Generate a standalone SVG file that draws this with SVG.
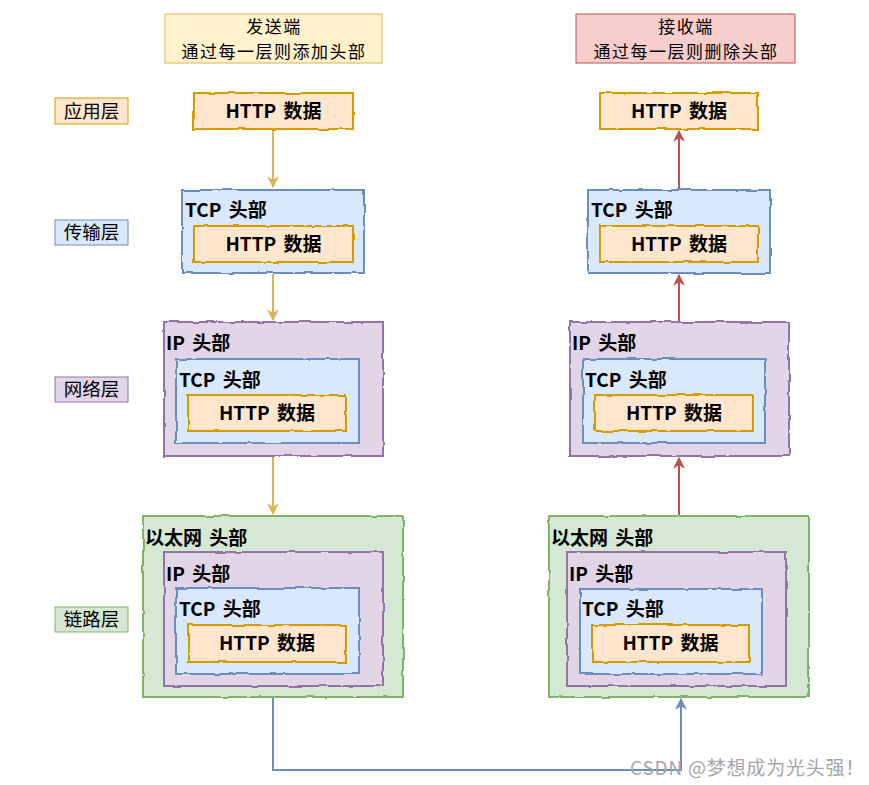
<svg xmlns="http://www.w3.org/2000/svg" width="869" height="785" viewBox="0 0 869 785">
<style>
.t{font-family:"Noto Sans CJK SC","Liberation Sans",sans-serif;fill:#000}
.lbl{font-size:18.5px}
.ttl{font-size:17px;letter-spacing:1.5px}
.hd{font-size:19px;font-weight:bold;word-spacing:3px}
.http{fill:#ffe6cc;stroke:#d79b00;stroke-width:2}
.tcp{fill:#dae8fc;stroke:#6c8ebf;stroke-width:2}
.ip{fill:#e1d5e7;stroke:#9673a6;stroke-width:2}
.eth{fill:#d5e8d4;stroke:#82b366;stroke-width:2}
.r{filter:url(#rough)}
</style>
<defs>
<filter id="rough" x="-5%" y="-5%" width="110%" height="110%">
<feTurbulence type="fractalNoise" baseFrequency="0.06" numOctaves="2" seed="4"/>
<feDisplacementMap in="SourceGraphic" scale="3" xChannelSelector="R" yChannelSelector="G"/>
</filter>
<marker id="ay" viewBox="0 0 10 10" refX="9" refY="5" markerWidth="6" markerHeight="6" orient="auto"><path d="M0,0 L10,5 L0,10 L3,5 z" fill="#d6b656"/></marker>
<marker id="ar" viewBox="0 0 10 10" refX="9" refY="5" markerWidth="6" markerHeight="6" orient="auto"><path d="M0,0 L10,5 L0,10 L3,5 z" fill="#b85450"/></marker>
<marker id="ab" viewBox="0 0 10 10" refX="9" refY="5" markerWidth="6" markerHeight="6" orient="auto"><path d="M0,0 L10,5 L0,10 L3,5 z" fill="#6c8ebf"/></marker>
</defs>
<rect width="869" height="785" fill="#ffffff"/>

<g id="title-send">
<rect x="165" y="14" width="217" height="49" fill="#fff2cc" stroke="#d6b656" stroke-width="1"/>
<text class="t ttl" x="274" y="33" text-anchor="middle">发送端</text>
<text class="t ttl" x="274" y="58" text-anchor="middle">通过每一层则添加头部</text>
</g>
<g id="title-recv">
<rect x="576" y="14" width="219" height="49" fill="#f8cecc" stroke="#b85450" stroke-width="1"/>
<text class="t ttl" x="686" y="33" text-anchor="middle">接收端</text>
<text class="t ttl" x="686" y="58" text-anchor="middle">通过每一层则删除头部</text>
</g>

<g id="layer-app">
<rect x="55" y="98" width="73" height="26" fill="#ffe6cc" stroke="#d79b00" stroke-width="1"/>
<text class="t lbl" x="91.5" y="117.5" text-anchor="middle">应用层</text>
</g>
<g id="layer-transport">
<rect x="55" y="220" width="73" height="25" fill="#dae8fc" stroke="#6c8ebf" stroke-width="1"/>
<text class="t lbl" x="91.5" y="239" text-anchor="middle">传输层</text>
</g>
<g id="layer-network">
<rect x="55" y="377" width="73" height="25" fill="#e1d5e7" stroke="#9673a6" stroke-width="1"/>
<text class="t lbl" x="91.5" y="396" text-anchor="middle">网络层</text>
</g>
<g id="layer-link">
<rect x="55" y="607" width="73" height="25" fill="#d5e8d4" stroke="#82b366" stroke-width="1"/>
<text class="t lbl" x="91.5" y="626" text-anchor="middle">链路层</text>
</g>

<g id="connectors" fill="none" stroke-width="2">
<path d="M273,129 V187" stroke="#d6b656" marker-end="url(#ay)"/>
<path d="M273,274 V320" stroke="#d6b656" marker-end="url(#ay)"/>
<path d="M273,457 V514" stroke="#d6b656" marker-end="url(#ay)"/>
<path d="M679,189 V131" stroke="#b85450" marker-end="url(#ar)"/>
<path d="M679,321 V275" stroke="#b85450" marker-end="url(#ar)"/>
<path d="M679,515 V458" stroke="#b85450" marker-end="url(#ar)"/>
<path d="M273,698 V770 H681 V699" stroke="#6c8ebf" marker-end="url(#ab)"/>
</g>

<!-- Left column -->
<g id="L-app">
<rect class="http r" x="194" y="93" width="159" height="36"/>
<text class="t hd" x="273.5" y="118" text-anchor="middle">HTTP 数据</text>
</g>
<g id="L-transport">
<rect class="tcp r" x="182" y="190" width="182" height="83"/>
<text class="t hd" x="185" y="217">TCP 头部</text>
<rect class="http r" x="194" y="226" width="159" height="36"/>
<text class="t hd" x="273.5" y="251" text-anchor="middle">HTTP 数据</text>
</g>
<g id="L-network">
<rect class="ip r" x="164" y="322" width="219" height="134"/>
<text class="t hd" x="166" y="350">IP 头部</text>
<rect class="tcp r" x="176" y="359" width="183" height="84"/>
<text class="t hd" x="179" y="387">TCP 头部</text>
<rect class="http r" x="188" y="395" width="158" height="36"/>
<text class="t hd" x="267" y="420" text-anchor="middle">HTTP 数据</text>
</g>
<g id="L-link">
<rect class="eth r" x="143" y="516" width="260" height="181"/>
<text class="t hd" x="145" y="545">以太网 头部</text>
<rect class="ip r" x="164" y="552" width="219" height="134"/>
<text class="t hd" x="166" y="581">IP 头部</text>
<rect class="tcp r" x="176" y="588" width="183" height="86"/>
<text class="t hd" x="179" y="616">TCP 头部</text>
<rect class="http r" x="188" y="625" width="158" height="37"/>
<text class="t hd" x="267" y="650" text-anchor="middle">HTTP 数据</text>
</g>

<!-- Right column -->
<g id="R-app">
<rect class="http r" x="600" y="93" width="158" height="36"/>
<text class="t hd" x="679" y="118" text-anchor="middle">HTTP 数据</text>
</g>
<g id="R-transport">
<rect class="tcp r" x="588" y="190" width="182" height="83"/>
<text class="t hd" x="591" y="217">TCP 头部</text>
<rect class="http r" x="600" y="226" width="158" height="36"/>
<text class="t hd" x="679" y="251" text-anchor="middle">HTTP 数据</text>
</g>
<g id="R-network">
<rect class="ip r" x="570" y="322" width="219" height="134"/>
<text class="t hd" x="572" y="350">IP 头部</text>
<rect class="tcp r" x="583" y="359" width="182" height="84"/>
<text class="t hd" x="585" y="387">TCP 头部</text>
<rect class="http r" x="595" y="395" width="158" height="36"/>
<text class="t hd" x="674" y="420" text-anchor="middle">HTTP 数据</text>
</g>
<g id="R-link">
<rect class="eth r" x="549" y="516" width="260" height="181"/>
<text class="t hd" x="551" y="545">以太网 头部</text>
<rect class="ip r" x="567" y="552" width="219" height="134"/>
<text class="t hd" x="569" y="581">IP 头部</text>
<rect class="tcp r" x="580" y="589" width="182" height="85"/>
<text class="t hd" x="582" y="616">TCP 头部</text>
<rect class="http r" x="592" y="625" width="157" height="37"/>
<text class="t hd" x="670.5" y="650" text-anchor="middle">HTTP 数据</text>
</g>

<text x="630" y="775" font-family="Noto Sans CJK SC, Liberation Sans, sans-serif" font-size="19" letter-spacing="0.8" fill="#a6a6a6">CSDN @梦想成为光头强！</text>
</svg>
